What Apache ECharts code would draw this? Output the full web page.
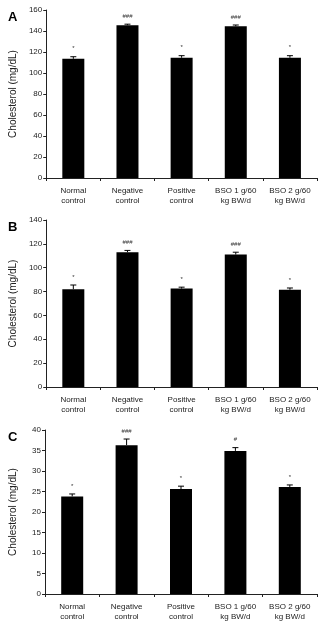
<!DOCTYPE html>
<html>
<head>
<meta charset="utf-8">
<script src="https://cdn.jsdelivr.net/npm/echarts@6/dist/echarts.min.js"></script>
<style>
  html, body { margin: 0; padding: 0; background: #fff; }
  #chart { width: 319px; height: 622px; }
</style>
</head>
<body>
<div id="chart"></div>
<script>
// groups on the x axis
const groups = ['Normal\ncontrol', 'Negative\ncontrol', 'Positive\ncontrol', 'BSO 1 g/60\nkg BW/d', 'BSO 2 g/60\nkg BW/d'];

// panel A
const meanA = [113.5, 145.5, 114.5, 144.5, 114.5];
const errA = [2, 1, 2, 1.2, 2];
const markA = ['*', '###', '*', '###', '*'];
const ticksA = { max: 160, interval: 20 };

// panel B
const meanB = [82, 113, 82.5, 111, 81.5];
const errB = [3.5, 1.5, 1.2, 2, 1.5];
const markB = ['*', '###', '*', '###', '*'];
const ticksB = { max: 140, interval: 20 };

// panel C
const meanC = [23.8, 36.3, 25.6, 34.9, 26.1];
const errC = [0.6, 1.5, 0.7, 0.8, 0.5];
const markC = ['*', '###', '*', '#', '*'];
const ticksC = { max: 40, interval: 5 };

const panels = [
    { letter: 'A', mean: meanA, err: errA, mark: markA, ticks: ticksA, top: 10, height: 168 },
    { letter: 'B', mean: meanB, err: errB, mark: markB, ticks: ticksB, top: 220, height: 167 },
    { letter: 'C', mean: meanC, err: errC, mark: markC, ticks: ticksC, top: 430, height: 167 }
];

const font = 'Liberation Sans, Arial, sans-serif';
const axisColor = '#222';

const chart = echarts.init(document.getElementById('chart'));

const grid = [], xAxis = [], yAxis = [], series = [], title = [];

panels.forEach((p, i) => {
    grid.push({ left: 45, right: 2, top: p.top, height: p.height });
    title.push({
        text: p.letter,
        left: 3,
        top: p.top - 4,
        textStyle: { fontFamily: font, fontSize: 13, fontWeight: 'bold', color: '#000' }
    });
    xAxis.push({
        type: 'category',
        gridIndex: i,
        data: groups,
        axisLine: { lineStyle: { color: axisColor, width: 1 } },
        axisTick: { show: true, length: 3, lineStyle: { color: axisColor } },
        axisLabel: { fontFamily: font, fontSize: 8, color: '#222', lineHeight: 10, margin: 8, interval: 0 }
    });
    yAxis.push({
        type: 'value',
        gridIndex: i,
        min: 0,
        max: p.ticks.max,
        interval: p.ticks.interval,
        name: 'Cholesterol (mg/dL)',
        nameLocation: 'middle',
        nameGap: 27,
        nameRotate: 90,
        nameTextStyle: { fontFamily: font, fontSize: 10, color: '#222' },
        axisLine: { show: true, lineStyle: { color: axisColor, width: 1 } },
        axisTick: { show: true, length: 3, lineStyle: { color: axisColor } },
        axisLabel: { fontFamily: font, fontSize: 8, color: '#222', margin: 4 },
        splitLine: { show: false }
    });
    series.push({
        type: 'bar',
        xAxisIndex: i,
        yAxisIndex: i,
        data: p.mean,
        barWidth: 22,
        itemStyle: { color: '#000' },
        silent: true
    });
    series.push({
        type: 'custom',
        xAxisIndex: i,
        yAxisIndex: i,
        data: p.mean.map((m, k) => [k, m, p.err[k]]),
        z: 5,
        renderItem: function (params, api) {
            const x = api.value(0);
            const m = api.value(1);
            const e = api.value(2);
            const base = api.coord([x, m]);
            const top = api.coord([x, m + e]);
            const k = params.dataIndex;
            return {
                type: 'group',
                children: [
                    { type: 'line', shape: { x1: base[0], y1: base[1], x2: top[0], y2: top[1] }, style: { stroke: '#000', lineWidth: 1 } },
                    { type: 'line', shape: { x1: top[0] - 3, y1: top[1], x2: top[0] + 3, y2: top[1] }, style: { stroke: '#000', lineWidth: 1 } },
                    {
                        type: 'text',
                        x: top[0],
                        y: top[1] - 5,
                        style: {
                            text: p.mark[k],
                            fontFamily: font,
                            fontSize: 6,
                            fill: '#333',
                            align: 'center',
                            verticalAlign: 'bottom'
                        }
                    }
                ]
            };
        }
    });
});

chart.setOption({
    animation: false,
    title: title,
    grid: grid,
    xAxis: xAxis,
    yAxis: yAxis,
    series: series
});
</script>
</body>
</html>
